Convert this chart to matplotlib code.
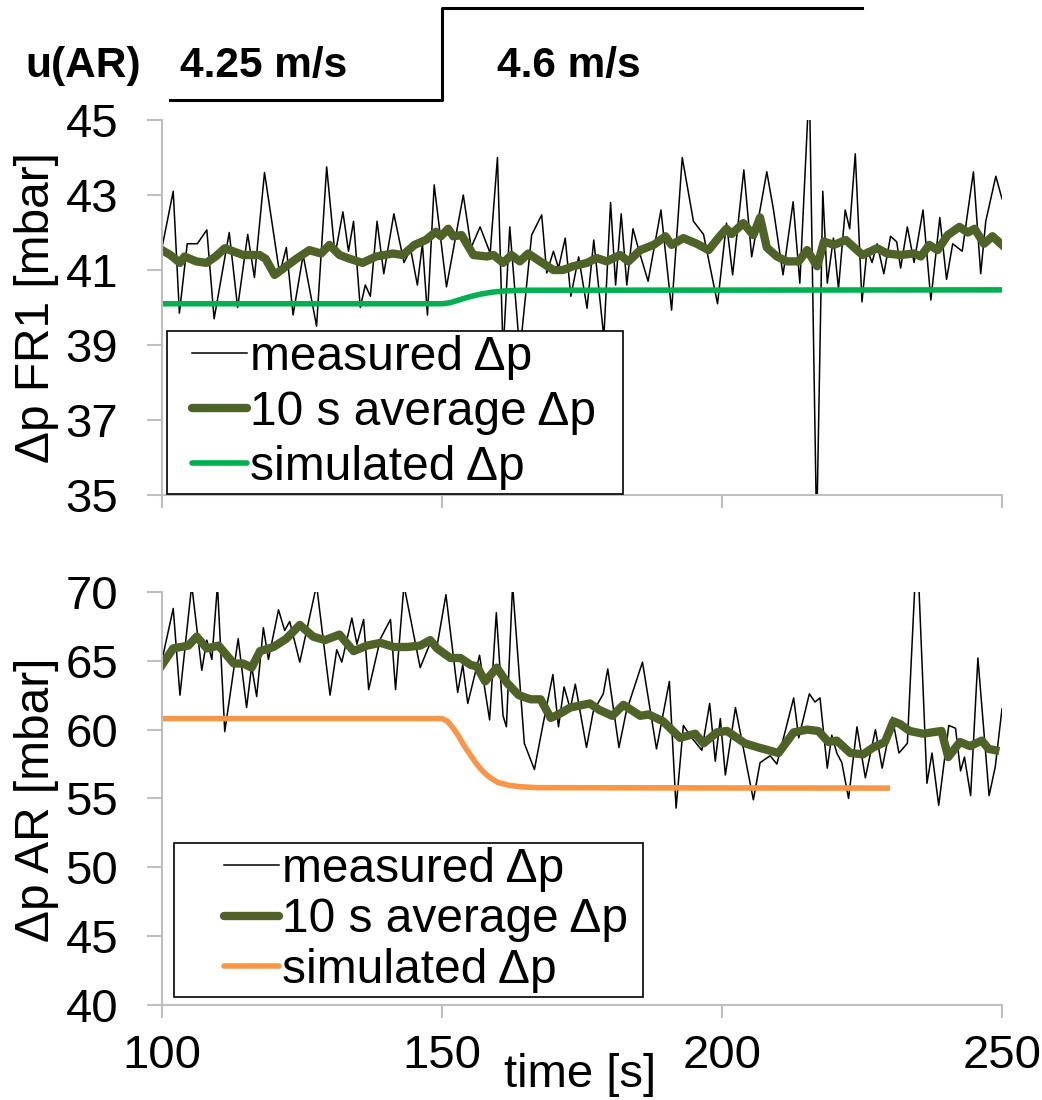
import matplotlib
matplotlib.use("Agg")
import matplotlib.pyplot as plt
from matplotlib.lines import Line2D
from matplotlib.legend_handler import HandlerLine2D

plt.rcParams["font.family"] = ["Liberation Sans", "DejaVu Sans"]

# velocity of AR (step above the chart)
u_t = [101.5, 150, 225]
u_speed = [4.25, 4.6, 4.6]

# FR1 pressure drop [mbar], measured (peaks and dips)
fr1_meas_t = [100, 102, 103.1, 104.5, 106.3, 108, 109.3, 112, 113.5, 115.3, 116.5, 118.3,
              121, 122.2, 123.4, 125.2, 127.6, 129.4, 130.9, 132.3, 133.3, 134.2, 135.4,
              136.3, 137.2, 138.4, 139.6, 141.4, 143.2, 144.4, 145.6, 146.5, 147.4, 148.6,
              150.8, 153.8, 155.2, 156.8, 158.6, 159.9, 160.9, 162.1, 163.9, 166, 167.8,
              168.7, 169.9, 170.8, 172, 173, 174.4, 175.9, 177.1, 178.9, 180.1, 181, 182,
              183, 184.1, 185.2, 186.8, 189.1, 191, 192.9, 194.9, 196.7, 199.2, 200.8,
              201.9, 203.9, 205.3, 208, 209.2, 210.9, 212.7, 213.9, 215.6, 216.9, 218,
              218.8, 219.9, 220.8, 222, 222.8, 223.8, 225, 225.9, 226.8, 227.7, 228.9,
              230.1, 231.2, 231.9, 233.1, 234.3, 235.9, 237.3, 238.9, 240.1, 241.2, 242.9,
              244.9, 246.2, 247.1, 248.9, 250]
fr1_meas_p = [41.6, 43.1, 39.85, 41.7, 41.7, 42.07, 39.7, 42.0, 40.0, 41.95, 40.8, 43.6,
              40.9, 41.6, 39.8, 41.4, 39.5, 43.75, 41.4, 42.55, 41.5, 42.3, 40.0,
              40.6, 40.3, 42.3, 40.9, 42.5, 41.2, 41.55, 40.6, 41.7, 39.8, 43.27,
              40.55, 43.0, 41.6, 42.15, 41.45, 44.0, 38.8, 42.15, 38.8, 41.93, 42.47,
              40.92, 41.5, 41.05, 41.85, 40.3, 41.35, 39.98, 41.8, 39.2, 42.8, 40.6, 42.5,
              40.6, 42.1, 41.5, 40.7, 42.6, 39.93, 44.0, 42.3, 41.95, 40.1, 42.25,
              40.87, 43.67, 41.35, 43.62, 42.6, 40.87, 42.82, 40.65, 46.0, 34.0, 43.1,
              40.65, 41.85, 40.5, 42.6, 42.1, 44.1, 40.15, 41.55, 41.2, 41.7, 40.9,
              41.9, 41.75, 41.05, 42.15, 41.2, 42.6, 40.2, 42.4, 40.75, 41.7, 41.5,
              43.62, 40.9, 42.3, 43.5, 42.9]

fr1_avg_t = [100, 101.5, 103.2, 104, 106.1, 107.9, 109.5, 111.2, 114.5, 117.4, 118.5, 120.1,
             122.2, 124, 126.3, 128.4, 129.9, 131.7, 133.5, 135.8, 138.2, 141.2, 143, 145.1,
             147.1, 148.9, 149.8, 151.1, 152, 153.5, 155.6, 158, 159.2, 160.9, 162.4, 163.9,
             165.4, 167.5, 169.9, 171.6, 173.4, 175.9, 177.6, 179.4, 181.8, 183.3, 185.4,
             187.8, 189.9, 191, 193.1, 195.5, 197.6, 199.6, 200.8, 201.7, 203.8, 205.6,
             206.8, 208, 209.8, 211.6, 213.7, 215.2, 217, 218.2, 220, 222.1, 225.1, 227.7,
             229.5, 231.9, 234.3, 235.5, 237, 238.5, 240.3, 242.4, 243.9, 245.1, 246.8,
             248.3, 250]
fr1_avg_p = [41.53, 41.4, 41.19, 41.36, 41.23, 41.19, 41.35, 41.58, 41.4, 41.4, 41.3, 40.87,
             41.1, 41.3, 41.53, 41.44, 41.67, 41.4, 41.3, 41.19, 41.36, 41.44, 41.4, 41.67,
             41.8, 42.02, 41.9, 42.1, 41.9, 41.93, 41.4, 41.36, 41.4, 41.19, 41.4, 41.23,
             41.44, 41.23, 41.0, 41.0, 41.1, 41.19, 41.32, 41.23, 41.4, 41.23, 41.53,
             41.67, 41.9, 41.67, 41.85, 41.7, 41.53, 41.9, 42.1, 41.96, 42.25, 41.93,
             42.4, 41.6, 41.36, 41.23, 41.23, 41.53, 41.1, 41.76, 41.67, 41.8, 41.4, 41.58,
             41.44, 41.4, 41.44, 41.36, 41.67, 41.53, 41.93, 42.15, 42.0, 42.1, 41.7,
             41.9, 41.67]

fr1_sim_t = [100, 150, 151.5, 153, 155, 157, 159, 161, 164, 250]
fr1_sim_p = [40.1, 40.1, 40.13, 40.2, 40.29, 40.36, 40.41, 40.44, 40.46, 40.47]

# AR pressure drop [mbar]
ar_meas_t = [100, 102, 103.2, 105.3, 107.1, 108, 108.9, 109.9, 111.2, 113.6, 115.1, 116,
             116.9, 118.1, 119, 120.8, 121.9, 122.8, 124.6, 127.6, 130, 131.2, 132.1, 133.9,
             134.8, 136, 136.9, 139, 140.8, 141.7, 143.2, 146.1, 147.9, 149, 150.7, 152.8,
             153.7, 154.6, 156.7, 158.5, 159.7, 160.9, 161.5, 162.6, 164.7, 166.5, 168,
             169.8, 170.8, 171.8, 172.9, 173.8, 175.8, 177, 178.8, 179.6, 181.6, 182.9,
             185.8, 188.3, 190.6, 191.8, 193.1, 194.6, 196.4, 197.8, 198.8, 199.7, 200.6,
             202.4, 205.6, 206.8, 208.6, 209.8, 212.8, 213.7, 215.6, 216.6, 217.5, 218.8,
             219.6, 220.5, 221.4, 222.6, 224.1, 225.6, 227.4, 228.6, 230.4, 231.6, 233.1,
             234.5, 235.1, 236.6, 237.5, 238.7, 240.5, 241.7, 242.6, 243.3, 244.4, 245.7,
             247.7, 248.8, 250]
ar_meas_p = [65.06, 68.8, 62.5, 70.5, 64.3, 66.5, 65.1, 70.5, 59.85, 66.6, 61.6, 64.6,
             62.4, 67.4, 65.1, 68.7, 67.2, 67.85, 64.9, 70.5, 62.5, 65.8, 64.9, 68.1,
             66.2, 68.0, 62.9, 66.6, 68.0, 62.9, 70.5, 64.5, 66.3, 65.8, 69.8, 62.7,
             64.7, 61.9, 65.4, 60.7, 68.5, 61.0, 60.2, 70.5, 59.0, 57.1, 60.3,
             64.0, 60.2, 63.1, 61.5, 63.3, 58.7, 61.3, 62.6, 64.4, 58.7, 61.3,
             64.9, 58.6, 63.5, 54.3, 60.3, 59.4, 58.5, 61.9, 57.7, 60.8, 56.7,
             61.6, 54.9, 57.6, 58.1, 57.5, 62.3, 59.4, 62.6, 62.0, 62.3, 57.2,
             59.6, 58.3, 57.6, 55.0, 60.2, 56.5, 60.0, 57.2, 60.9, 58.3, 59.0,
             71.0, 71.0, 56.1, 58.3, 54.5, 60.3, 60.1, 57.0, 58.0, 55.2, 65.2,
             55.2, 57.3, 61.5]

ar_avg_t = [100, 102, 104.7, 106.2, 108, 110.1, 112.8, 114.5, 116, 117.5, 119.9, 122.2,
            124.6, 127, 129.1, 131.7, 134.2, 136.6, 139, 141.4, 143.8, 146.1, 147.9, 149.1,
            151.5, 153.3, 155.1, 156.2, 157.7, 159.8, 161.6, 163.7, 165.8, 167.6, 169.4,
            170.8, 172.9, 176.4, 178, 180.4, 182.4, 185.4, 186.9, 189.5, 192.5, 195.2,
            196.7, 199.1, 200.9, 204.1, 206.5, 210.1, 212.8, 215.2, 217.2, 219, 220.5,
            222.9, 225.2, 227, 229.1, 230.6, 231.8, 233.5, 235.9, 239.2, 240.4, 242.5,
            244.3, 246.4, 247.6, 248.8]
ar_avg_p = [64.7, 65.9, 66.1, 66.75, 65.9, 66.1, 64.8, 64.8, 64.5, 65.7, 66.0, 66.6,
            67.6, 66.75, 66.5, 66.9, 65.7, 66.1, 66.3, 66.0, 66.0, 66.1, 66.5, 65.9,
            65.2, 65.2, 64.7, 64.6, 63.5, 64.5, 63.4, 62.5, 62.2, 62.2, 60.85,
            61.1, 61.6, 61.9, 61.45, 61.0, 61.8, 61.0, 61.1, 60.6, 59.4, 59.7,
            59.0, 59.8, 59.9, 59.0, 58.7, 58.3, 59.8, 60.0, 59.9, 59.1, 59.2,
            58.3, 58.2, 58.7, 59.1, 60.6, 60.4, 59.9, 59.7, 59.9, 58.0, 59.1,
            58.8, 59.2, 58.6, 58.5]

ar_sim_t = [100, 150, 151, 152, 153, 154, 155, 156, 157, 158, 159, 160, 162, 164, 167, 229.5]
ar_sim_p = [60.8, 60.8, 60.6, 60.1, 59.5, 58.8, 58.2, 57.6, 57.1, 56.7, 56.4, 56.15, 55.95,
            55.85, 55.78, 55.75]

labels = ["measured \u0394p", "10 s average \u0394p", "simulated \u0394p"]

FS = 34
LFS = 34.5
GREY = "#BFBFBF"
OLIVE = "#4F6228"

fig = plt.figure(figsize=(10.42, 11), dpi=100)
ax1 = fig.add_axes([0.1555, 0.55, 0.8061, 0.3409])
ax2 = fig.add_axes([0.1555, 0.0864, 0.8061, 0.3755])
ax_u = fig.add_axes([0.1555, 0.90909, 0.8061, 0.08364])


def style(ax):
    ax.set_xlim(100, 250)
    ax.set_xticks([100, 150, 200, 250])
    for s in ["top", "right"]:
        ax.spines[s].set_visible(False)
    for s in ["left", "bottom"]:
        ax.spines[s].set_color(GREY)
        ax.spines[s].set_linewidth(1.5)
    ax.tick_params(direction="out", width=1.5, color=GREY,
                   labelsize=FS, labelcolor="black")
    ax.tick_params(axis="y", length=10.5, pad=21)
    ax.tick_params(axis="x", length=9, pad=12)


def legend(ax, sim_color, x0, y0, w, ls, xpad, hl):
    handles = [Line2D([], [], color="black", lw=1.1),
               Line2D([], [], color=OLIVE, lw=6, solid_capstyle="round"),
               Line2D([], [], color=sim_color, lw=4, solid_capstyle="round")]
    leg = ax.legend(handles, labels, loc="lower left", bbox_to_anchor=(x0, y0, w, 0.3),
                    mode="expand", borderaxespad=0, fontsize=LFS, frameon=True,
                    fancybox=False, framealpha=1, edgecolor="black", borderpad=0.08,
                    labelspacing=ls, handlelength=hl, handletextpad=0.06,
                    handler_map={Line2D: HandlerLine2D(xpad=xpad)})
    leg.get_frame().set_linewidth(1.2)


# top panel: FR1
style(ax1)
ax1.set_ylim(35, 45)
ax1.set_yticks([35, 37, 39, 41, 43, 45])
ax1.tick_params(axis="x", labelbottom=False)
ax1.plot(fr1_meas_t, fr1_meas_p, color="black", lw=1.1)
ax1.plot(fr1_avg_t, fr1_avg_p, color=OLIVE, lw=6, solid_joinstyle="round")
ax1.plot(fr1_sim_t, fr1_sim_p, color="#00B050", lw=4)
ax1.set_ylabel("\u0394p FR1 [mbar]", fontsize=LFS)
ax1.yaxis.set_label_coords(-0.1226, 0.499)
legend(ax1, "#00B050", 0.006, 0.003, 0.543, 0.21, 0.44, 1.59)

# bottom panel: AR
style(ax2)
ax2.set_ylim(40, 70)
ax2.set_yticks([40, 45, 50, 55, 60, 65, 70])
ax2.plot(ar_meas_t, ar_meas_p, color="black", lw=1.1)
ax2.plot(ar_avg_t, ar_avg_p, color=OLIVE, lw=6, solid_joinstyle="round")
ax2.plot(ar_sim_t, ar_sim_p, color="#F79646", lw=4)
ax2.set_ylabel("\u0394p AR [mbar]", fontsize=LFS)
ax2.yaxis.set_label_coords(-0.1226, 0.496)
ax2.set_xlabel("time [s]", fontsize=FS)
ax2.xaxis.set_label_coords(0.4976, -0.116)
legend(ax2, "#F79646", 0.0143, 0.0194, 0.558, 0.12, 0.96, 2.11)

# velocity step on top
ax_u.set_xlim(100, 250)
ax_u.set_ylim(4.25, 4.6)
ax_u.axis("off")
ax_u.plot(u_t, u_speed, drawstyle="steps-post", color="black", lw=2.2, clip_on=False)

for x_px, txt in [(25, "u(AR)"), (180, "4.25 m/s"), (497, "4.6 m/s")]:
    fig.text(x_px / 1042, 1 - 77 / 1100, txt, fontsize=30.5, fontweight="bold",
             va="baseline")

fig.savefig("out.png", dpi=100)
